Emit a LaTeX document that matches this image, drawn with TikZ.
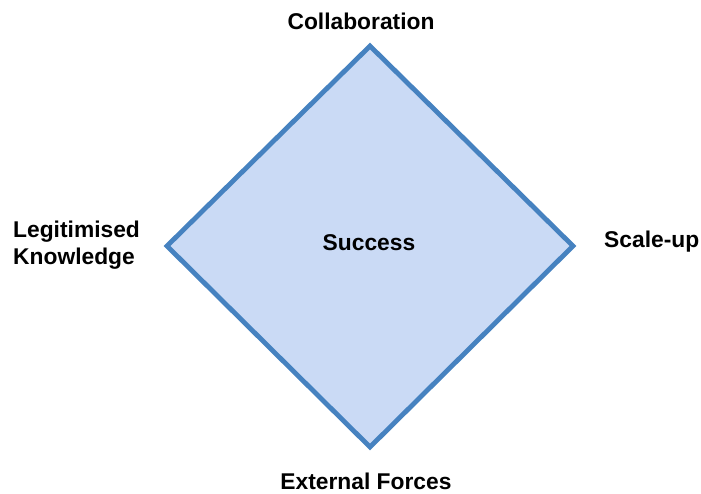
\documentclass[tikz,border=0pt]{standalone}
\usepackage{fontspec}
\setmainfont{Liberation Sans}
\definecolor{edgeblue}{HTML}{4682C0}
\definecolor{fillblue}{HTML}{CADAF5}
\begin{document}
\begin{tikzpicture}[x=1pt,y=-1pt,
  lbl/.style={font=\bfseries\fontsize{22.8}{27}\selectfont, inner sep=0pt, text=black},
  diamondedge/.style={draw=edgeblue, fill=fillblue, line width=4.8pt, line join=miter}]
  \useasboundingbox (0,0) rectangle (701,493);
  % corners of the diamond
  \coordinate (top) at (370,46);
  \coordinate (left) at (167,246);
  \coordinate (right) at (573,246);
  \coordinate (bottom) at (370,447);
  \draw[diamondedge] (top) -- (right) -- (bottom) -- (left) -- cycle;
  % labels
  \node[lbl] (success) at (369,243) {Success};
  \node[lbl] (collab) at (361,21) {Collaboration};
  \node[lbl, anchor=west, align=left] (legit) at (13,245) {Legitimised\\Knowledge};
  \node[lbl, anchor=west] (scale) at (604,242) {Scale-up};
  \node[lbl] (external) at (366,481) {External Forces};
\end{tikzpicture}
\end{document}
